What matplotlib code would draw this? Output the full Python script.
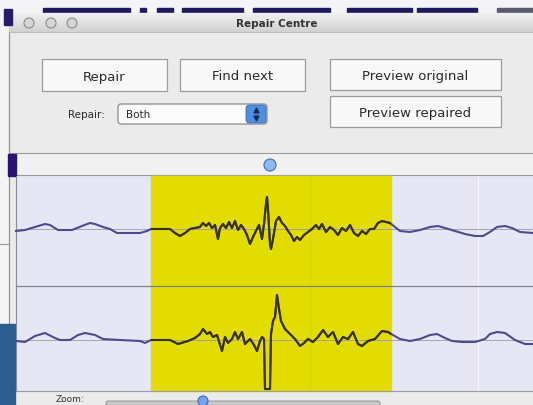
"""Repair Centre window: two waveform tracks with a yellow repair selection."""
import numpy as np
import matplotlib

matplotlib.use("Agg")
import matplotlib.pyplot as plt
from matplotlib.patches import Rectangle, FancyBboxPatch, Circle

# --- waveform data (sample position in px, amplitude in px above the track baseline) ---
top_x = [16, 25, 35, 45, 50, 58, 72, 82, 90, 95, 103, 110, 117, 125, 140, 147,
         151, 160, 170, 175, 180, 185, 190, 195, 200, 203, 206, 209, 212, 215, 218,
         220, 223, 226, 229, 232, 235, 238, 241, 244, 247, 250, 253, 256, 259, 262,
         264, 266, 267, 268, 270, 271, 273, 276, 279, 282, 285, 288, 291, 294, 297,
         300, 304, 308, 312, 316, 319, 322, 326, 330, 334, 338, 342, 346, 350, 354,
         358, 362, 366, 370, 374, 378, 382, 386, 390, 395, 400, 410, 420, 430, 438,
         445, 455, 465, 475, 483, 490, 497, 505, 512, 520, 533]
top_amp = [-2, -1, 2, 5, 4, -1, -1, 3, 6, 5, 2, 0, -4, -4, -4, -2,
           0, 0, 0, -4, -7, -4, 0, 1, 2, 6, 3, 6, 1, 4, -10,
           1, 5, 1, 7, 1, 8, -1, 4, 0, -6, -15, -8, -2, 4, -10,
           5, 25, 32, 20, -15, -20, -10, 8, 12, 6, 3, -2, -6, -12, -8,
           -11, -6, -3, 0, 4, 0, 5, -3, 2, -1, -6, 1, -2, 4, -4,
           -7, -2, -5, 0, 0, 6, 8, 7, 6, 2, -2, -3, -1, 2, 3,
           1, -2, -5, -7, -7, -3, 2, 3, 1, -3, -4]

bot_x = [16, 25, 35, 45, 55, 60, 70, 78, 85, 95, 103, 120, 140, 145,
         151, 160, 170, 178, 188, 195, 200, 203, 207, 210, 213, 217, 222,
         225, 228, 232, 235, 238, 242, 245, 250, 254, 257, 260, 262, 264,
         265, 270, 271, 273, 275, 277, 279, 281, 285, 290, 295, 300, 304,
         308, 313, 318, 323, 328, 333, 338, 343, 348, 353, 358, 362, 368,
         375, 382, 388, 393, 400, 410, 420, 430, 437, 445, 452, 462, 475,
         485, 490, 497, 505, 515, 525, 533]
bot_amp = [-1, -2, 4, 7, 2, 0, 0, 5, 7, 5, 1, 0, -1, -3,
           0, 0, 0, -4, -1, 2, 6, 11, 6, 8, 3, 5, -11,
           3, -3, 1, 8, 1, 8, -4, 1, -5, -11, -1, 3, 1,
           -49, -49, 6, 19, 23, 45, 31, 19, 11, 6, 1, -6, -3,
           1, -2, 3, 10, 3, 8, -4, 3, 1, 8, -4, -6, -1,
           1, 9, 8, 5, 1, -1, 1, 5, 6, 2, -1, -2, -2,
           1, 6, 8, 7, 0, -4, -4]

buttons = ["Repair", "Find next", "Preview original", "Preview repaired"]
repair_choice = "Both"
title = "Repair Centre"

# --- layout (px) ---
W, H = 533, 406
TOP_BASE, BOT_BASE = 230, 341
SEL_X0, SEL_X1 = 151, 391

fig = plt.figure(figsize=(W / 100, H / 100), dpi=100)
ax = fig.add_axes([0, 0, 1, 1])

# desktop strip on top
ax.add_patch(Rectangle((0, 0), W, H, color="#f4f4f6", zorder=0))
for x0, x1 in [(43, 130), (140, 146), (157, 173), (182, 243), (253, 330),
               (347, 412), (417, 477)]:
    ax.add_patch(Rectangle((x0, 9), x1 - x0, 6, color="#1e1a5c", zorder=1))
ax.add_patch(Rectangle((497, 9), 36, 6, color="#5a5a70", zorder=1))
ax.add_patch(Rectangle((4, 10), 8, 16, color="#2a1a6a", zorder=3))

# window body
ax.add_patch(Rectangle((9, 14), W - 9, H - 14, color="#ebebeb", zorder=1))
ax.plot([9, 9], [26, H], color="#8c8c8c", lw=0.8, zorder=2)

# title bar with gradient
grad = np.linspace(0.94, 0.82, 40).reshape(-1, 1)
ax.imshow(grad, extent=(9, W, 33, 14), aspect="auto", cmap="gray",
          vmin=0, vmax=1, zorder=2)
ax.plot([9, W], [33, 33], color="#b4b4b4", lw=0.6, zorder=3)
for cx in (29, 51, 72):
    ax.add_patch(Circle((cx, 24), 5, facecolor="#d6d6d6", edgecolor="#8a8a8a",
                        lw=0.8, zorder=3))
ax.text(277, 24, title, ha="center", va="center", fontsize=7.5,
        fontweight="bold", color="#333333", zorder=4)

# buttons
btn_boxes = [(42, 60, 125, 32), (180, 60, 125, 32), (330, 60, 171, 31), (330, 97, 171, 31)]
for label, (bx, by, bw, bh) in zip(buttons, btn_boxes):
    ax.add_patch(Rectangle((bx, by), bw, bh, facecolor="#f8f8f8",
                           edgecolor="#9c9c9c", lw=0.9, zorder=3))
    ax.text(bx + bw / 2, by + bh / 2 + 1, label, ha="center", va="center",
            fontsize=9.5, color="#2a2a2a", zorder=4)

# repair popup
ax.text(86, 115, "Repair:", ha="center", va="center", fontsize=7.5,
        color="#2a2a2a", zorder=4)
ax.add_patch(FancyBboxPatch((118, 105), 149, 20, boxstyle="round,pad=0,rounding_size=3",
                            facecolor="#fbfbfb", edgecolor="#8a8a8a", lw=0.9, zorder=3))
ax.add_patch(FancyBboxPatch((246, 106), 20, 18, boxstyle="round,pad=0,rounding_size=3",
                            facecolor="#4f8fe0", edgecolor="#3a6cb0", lw=0.6, zorder=4))
ax.plot([256], [111], marker="^", ms=3.5, color="#1a2a50", zorder=5)
ax.plot([256], [119], marker="v", ms=3.5, color="#1a2a50", zorder=5)
ax.text(126, 115, repair_choice, ha="left", va="center", fontsize=7.5,
        color="#2a2a2a", zorder=4)

# scroll strip
ax.add_patch(Rectangle((16, 154), W - 16, 22, color="#f1f1f1", zorder=2))
ax.plot([9, W], [154, 154], color="#9a9a9a", lw=0.8, zorder=3)
ax.plot([9, W], [176, 176], color="#9a9a9a", lw=0.8, zorder=3)
ax.add_patch(Circle((270, 166), 6, facecolor="#8dbaf0", edgecolor="#4a78b8",
                    lw=0.9, zorder=4))
ax.add_patch(Rectangle((8, 155), 8, 22, color="#2a1470", zorder=3))

# track area
for y0, y1 in [(177, 286), (287, 392)]:
    ax.add_patch(Rectangle((16, y0), W - 16, y1 - y0, color="#e6e6f4", zorder=2))
ax.add_patch(Rectangle((SEL_X0, 177), SEL_X1 - SEL_X0, 215, color="#e2dc00", zorder=3))
ax.plot([310, 310], [177, 392], color="#d8d200", lw=0.7, zorder=3)
ax.plot([478, 478], [177, 392], color="#f6f6fc", lw=0.8, zorder=3)
ax.plot([16, W], [286.5, 286.5], color="#80808e", lw=0.9, zorder=4)
ax.plot([16, W], [392, 392], color="#9a9aa6", lw=0.8, zorder=4)
ax.plot([16, 16], [177, 392], color="#8c8c96", lw=0.8, zorder=4)
ax.plot([0, 9], [245, 245], color="#9a9a9a", lw=0.8, zorder=3)
ax.add_patch(Rectangle((0, 325), 15, H - 325, color="#2d5d8e", zorder=3))

sel = Rectangle((SEL_X0, 177), SEL_X1 - SEL_X0, 215, transform=ax.transData)
for xs, amps, base in [(top_x, top_amp, TOP_BASE), (bot_x, bot_amp, BOT_BASE)]:
    ys = base - np.asarray(amps)
    ax.plot([16, W], [base, base], color="#9a9aa8", lw=0.6, zorder=4)
    ax.plot(xs, ys, color="#4e4a8e", lw=1.5, zorder=5, solid_joinstyle="round")
    inner, = ax.plot(xs, ys, color="#3a3510", lw=1.5, zorder=6,
                     solid_joinstyle="round")
    inner.set_clip_path(sel)

# zoom slider at the bottom
ax.text(70, 399.5, "Zoom:", ha="center", va="center", fontsize=6.5,
        color="#333333", zorder=4)
ax.add_patch(FancyBboxPatch((106, 402), 274, 6, boxstyle="round,pad=0,rounding_size=2",
                            facecolor="#c8c8c8", edgecolor="#8a8a8a", lw=0.6, zorder=3))
ax.add_patch(Circle((203, 402), 5, facecolor="#6fa5ea", edgecolor="#3e6cb0",
                    lw=0.8, zorder=4))

ax.set_xlim(0, W)
ax.set_ylim(H, 0)
ax.axis("off")
fig.savefig("out.png", dpi=100)
